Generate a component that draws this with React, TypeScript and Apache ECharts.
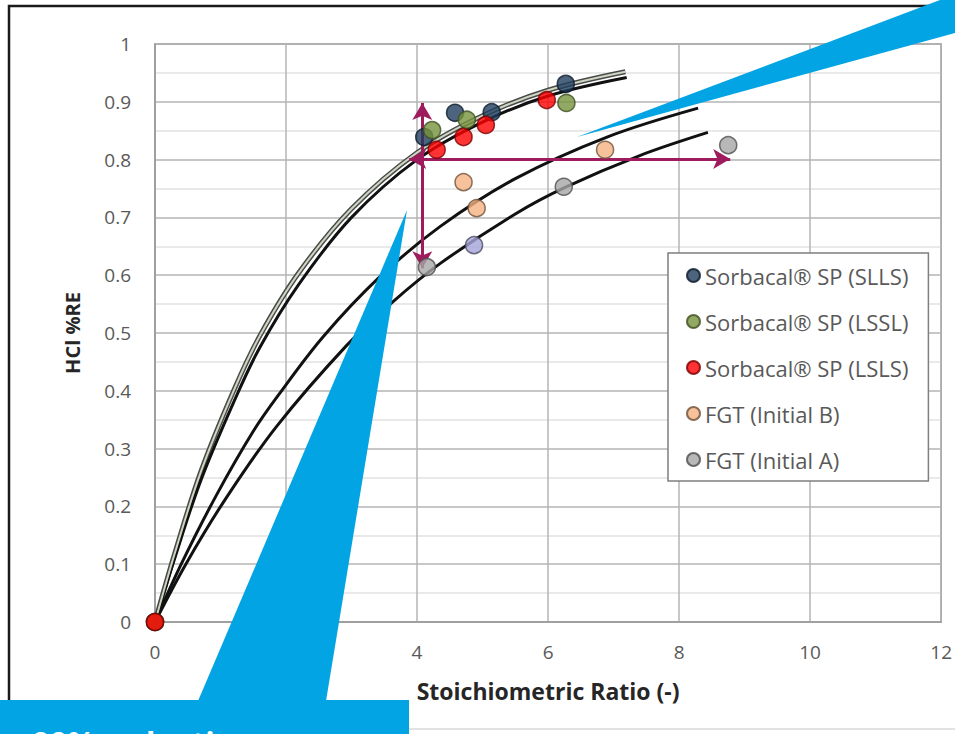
import React, { useEffect, useRef } from "react";
import * as echarts from "echarts";

// ---- data ----
const seriesNames = [
  "Sorbacal® SP (SLLS)",
  "Sorbacal® SP (LSSL)",
  "Sorbacal® SP (LSLS)",
  "FGT (Initial B)",
  "FGT (Initial A)",
];
const sllsPoints = [[0, 0], [4.11, 0.839], [4.58, 0.881], [5.14, 0.882], [6.27, 0.931]];
const lsslPoints = [[0, 0], [4.23, 0.851], [4.76, 0.869], [6.28, 0.898]];
const lslsPoints = [[0, 0], [4.3, 0.817], [4.71, 0.839], [5.05, 0.86], [5.98, 0.903]];
const initialBPoints = [[4.71, 0.761], [4.91, 0.716], [6.87, 0.817]];
const initialAPoints = [[4.15, 0.614], [6.24, 0.753], [8.75, 0.825]];
const initialAExtraPoint = [4.87, 0.652];

// fitted curves, points
const fitSorbacalUpper = [[0, 0], [0.3, 0.118], [0.7, 0.26], [1.2, 0.4], [1.6, 0.495], [2.2, 0.605], [3.0, 0.715], [4.0, 0.812], [5.0, 0.876], [6.0, 0.92], [7.18, 0.952]];
const fitSorbacalLower = [[0, 0], [0.3, 0.11], [0.7, 0.245], [1.2, 0.38], [1.6, 0.475], [2.2, 0.585], [3.0, 0.7], [4.0, 0.8], [5.0, 0.865], [6.0, 0.91], [7.2, 0.942]];
const fitInitialB = [[0, 0], [0.4, 0.1], [0.94, 0.22], [1.5, 0.33], [1.88, 0.392], [2.57, 0.494], [3.43, 0.597], [4.35, 0.684], [5.5, 0.767], [6.9, 0.839], [8.29, 0.889]];
const fitInitialA = [[0, 0], [0.49, 0.104], [1.1, 0.217], [1.86, 0.339], [2.93, 0.479], [3.63, 0.554], [4.35, 0.62], [5.5, 0.706], [6.26, 0.752], [7.4, 0.807], [8.44, 0.847]];

// annotation arrows (data coordinates)
const arrowVertical = [[4.08, 0.898], [4.08, 0.612]];
const arrowHorizontal = [[3.88, 0.801], [8.78, 0.801]];

// axes
const xMin = 0, xMax = 12, xStep = 2;
const yMin = 0, yMax = 1, yStep = 0.1;
const xAxisName = "Stoichiometric Ratio (-)";
const yAxisName = "HCl %RE";
const calloutText = "90% reduction";

const FONT = "'Open Sans', 'Noto Sans', sans-serif";
const BLUE = "#02a4e3";

export default function App() {
  const ref = useRef<HTMLDivElement>(null);
  useEffect(() => {
    document.body.style.margin = "0";
    const chart = echarts.init(ref.current!, undefined, { renderer: "svg" });
    const scatter = (name: string, data: any[], color: string, border: string) => ({
      type: "scatter",
      name,
      data,
      symbolSize: 17,
      itemStyle: { color, borderColor: border, borderWidth: 1.5 },
      z: 5,
    });
    const curve = (data: number[][], color: string, width: number, z = 3) => ({
      type: "line",
      data,
      smooth: 0.35,
      showSymbol: false,
      silent: true,
      lineStyle: { color, width },
      z,
    });
    chart.setOption({
      animation: false,
      backgroundColor: "#ffffff",
      textStyle: { fontFamily: FONT },
      grid: {
        left: 155,
        right: 11,
        top: 44,
        bottom: 112,
        show: true,
        borderColor: "#8c8c8c",
        borderWidth: 1.5,
        backgroundColor: "#ffffff",
      },
      xAxis: {
        type: "value",
        min: xMin,
        max: xMax,
        interval: xStep,
        name: xAxisName,
        nameLocation: "middle",
        nameGap: 57,
        nameTextStyle: { fontFamily: FONT, fontWeight: "bold", fontSize: 23, color: "#262626" },
        axisLine: { show: true, lineStyle: { color: "#9a9a9a", width: 1.5 } },
        axisTick: { show: false },
        axisLabel: { margin: 20, fontSize: 19, color: "#595959", fontFamily: FONT },
        splitLine: { show: true, lineStyle: { color: "#b5b5b5", width: 1.5 } },
      },
      yAxis: {
        type: "value",
        min: yMin,
        max: yMax,
        interval: yStep,
        name: yAxisName,
        nameLocation: "middle",
        nameGap: 73,
        nameRotate: 90,
        nameTextStyle: { fontFamily: FONT, fontWeight: "bold", fontSize: 20, color: "#262626" },
        axisLine: { show: true, lineStyle: { color: "#9a9a9a", width: 1.5 } },
        axisTick: { show: false },
        axisLabel: { margin: 24, fontSize: 19, color: "#595959", fontFamily: FONT },
        splitLine: { show: true, lineStyle: { color: "#b5b5b5", width: 1.5 } },
        minorTick: { show: false, splitNumber: 2 },
        minorSplitLine: { show: true, lineStyle: { color: "#e2e2e2", width: 1.5 } },
      },
      legend: {
        data: seriesNames,
        orient: "vertical",
        left: 668,
        top: 253,
        icon: "circle",
        itemWidth: 13,
        itemHeight: 13,
        itemGap: 21,
        padding: [10, 20, 9, 18],
        backgroundColor: "#ffffff",
        borderColor: "#7f7f7f",
        borderWidth: 1.5,
        selectedMode: false,
        textStyle: { fontFamily: FONT, fontSize: 22, color: "#595959", lineHeight: 25 },
      },
      series: [
        curve(fitSorbacalUpper, "#4a4a4a", 5),
        curve(fitSorbacalUpper, "#cdd6c0", 2, 3.1),
        curve(fitSorbacalLower, "#111111", 3),
        curve(fitInitialB, "#111111", 3),
        curve(fitInitialA, "#111111", 3),
        scatter(seriesNames[0], sllsPoints, "#1f3d5c", "#0b1a2a"),
        scatter(seriesNames[1], lsslPoints, "#77933c", "#3f5020"),
        scatter(seriesNames[2], lslsPoints, "#ff0000", "#7a0000"),
        scatter(seriesNames[3], initialBPoints, "#f5b183", "#6e5038"),
        scatter(
          seriesNames[4],
          [
            ...initialAPoints,
            { value: initialAExtraPoint, itemStyle: { color: "#a4a4d8", borderColor: "#4a4a60" } },
          ],
          "#a6a6a6",
          "#4d4d4d"
        ),
        {
          type: "line",
          data: [],
          silent: true,
          z: 8,
          markLine: {
            silent: true,
            symbol: ["arrow", "arrow"],
            symbolSize: [15, 17],
            label: { show: false },
            lineStyle: { color: "#9e1c5e", width: 3, type: "solid" },
            data: [
              [{ coord: arrowVertical[0] }, { coord: arrowVertical[1] }],
              [{ coord: arrowHorizontal[0] }, { coord: arrowHorizontal[1] }],
            ],
          },
        },
      ],
      graphic: [
        {
          type: "polyline",
          z: 100,
          shape: { points: [[9, 729], [9, 6], [955, 6]] },
          style: { stroke: "#1a1a1a", lineWidth: 2.5, fill: null },
        },
        {
          type: "line",
          z: 100,
          shape: { x1: 9, y1: 729, x2: 955, y2: 729 },
          style: { stroke: "#d9d9d9", lineWidth: 1.5 },
        },
        {
          type: "polygon",
          z: 110,
          shape: { points: [[577, 137], [940, 0], [955, 0], [955, 33]] },
          style: { fill: BLUE },
        },
        {
          type: "polygon",
          z: 110,
          shape: { points: [[407, 210], [198, 701], [326, 701]] },
          style: { fill: BLUE },
        },
        {
          type: "rect",
          z: 110,
          shape: { x: 0, y: 700, width: 409, height: 40 },
          style: { fill: BLUE },
        },
        {
          type: "text",
          z: 111,
          x: 32,
          y: 726,
          style: {
            text: calloutText,
            fill: "#ffffff",
            font: `bold 31px ${FONT}`,
            verticalAlign: "top",
          },
        },
      ],
    });
    return () => chart.dispose();
  }, []);
  return (
    <div
      ref={ref}
      style={{ position: "fixed", left: 0, top: 0, width: 955, height: 734, background: "#fff" }}
    />
  );
}
